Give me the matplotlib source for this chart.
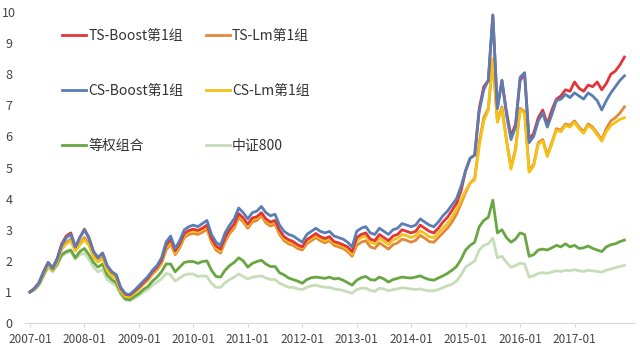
# 分组回测净值走势图
import matplotlib
matplotlib.use('Agg')
import matplotlib.pyplot as plt
import numpy as np

plt.rcParams['font.family'] = ['Noto Sans CJK SC', 'DejaVu Sans']

# 月度净值 2007-01 ~ 2017-12
ts_boost = [1.00, 1.12, 1.30, 1.65, 1.95, 1.78, 2.08, 2.55, 2.80, 2.90, 2.45, 2.75,
            3.02, 2.75, 2.30, 2.10, 2.25, 1.85, 1.65, 1.55, 1.12, 0.93, 0.90, 1.02,
            1.15, 1.30, 1.45, 1.65, 1.80, 2.02, 2.50, 2.70, 2.32, 2.55, 2.88, 2.98,
            3.02, 2.98, 3.05, 3.15, 2.72, 2.48, 2.38, 2.75, 3.00, 3.18, 3.52, 3.38,
            3.18, 3.38, 3.42, 3.55, 3.35, 3.25, 3.30, 2.98, 2.78, 2.68, 2.62, 2.52,
            2.45, 2.68, 2.78, 2.88, 2.78, 2.72, 2.78, 2.62, 2.58, 2.52, 2.45, 2.30,
            2.75, 2.85, 2.90, 2.70, 2.65, 2.85, 2.75, 2.65, 2.80, 2.85, 3.00, 2.95,
            2.90, 2.95, 3.15, 3.05, 2.95, 2.90, 3.05, 3.25, 3.40, 3.62, 3.85, 4.25,
            4.90, 5.30, 5.40, 6.90, 7.60, 7.80, 9.90, 6.90, 7.80, 6.80, 6.00, 6.40,
            7.80, 8.00, 5.90, 6.10, 6.60, 6.85, 6.40, 6.85, 7.20, 7.30, 7.50, 7.45,
            7.75, 7.55, 7.45, 7.65, 7.60, 7.75, 7.50, 7.70, 8.00, 8.10, 8.30, 8.55]

ts_lm = [1.00, 1.10, 1.28, 1.60, 1.88, 1.70, 1.98, 2.40, 2.60, 2.70, 2.35, 2.55,
         2.75, 2.55, 2.15, 1.98, 2.10, 1.72, 1.55, 1.45, 1.05, 0.88, 0.85, 0.98,
         1.10, 1.25, 1.38, 1.58, 1.72, 1.92, 2.35, 2.55, 2.20, 2.42, 2.75, 2.85,
         2.88, 2.85, 2.92, 3.02, 2.60, 2.35, 2.25, 2.62, 2.88, 3.05, 3.40, 3.25,
         3.05, 3.25, 3.30, 3.45, 3.22, 3.12, 3.18, 2.85, 2.65, 2.55, 2.50, 2.40,
         2.35, 2.55, 2.65, 2.75, 2.65, 2.58, 2.65, 2.50, 2.45, 2.40, 2.30, 2.15,
         2.50, 2.60, 2.65, 2.45, 2.40, 2.58, 2.48, 2.38, 2.52, 2.58, 2.70, 2.66,
         2.60, 2.66, 2.82, 2.73, 2.62, 2.60, 2.75, 2.90, 3.05, 3.25, 3.50, 3.85,
         4.20, 4.50, 4.65, 5.80, 6.60, 6.90, 8.45, 6.50, 6.95, 5.90, 5.00, 5.60,
         6.90, 6.80, 4.90, 5.10, 5.80, 5.90, 5.40, 5.80, 6.25, 6.20, 6.40, 6.35,
         6.50, 6.30, 6.15, 6.40, 6.30, 6.10, 5.90, 6.25, 6.50, 6.60, 6.75, 6.95]

cs_boost = [1.00, 1.12, 1.30, 1.65, 1.95, 1.75, 2.05, 2.50, 2.75, 2.85, 2.45, 2.75,
            3.00, 2.72, 2.30, 2.10, 2.25, 1.85, 1.65, 1.55, 1.15, 0.95, 0.92, 1.05,
            1.20, 1.35, 1.50, 1.70, 1.85, 2.10, 2.60, 2.80, 2.40, 2.65, 3.00, 3.10,
            3.15, 3.10, 3.20, 3.30, 2.85, 2.60, 2.50, 2.90, 3.15, 3.35, 3.70, 3.55,
            3.35, 3.55, 3.60, 3.75, 3.55, 3.45, 3.50, 3.15, 2.95, 2.85, 2.80, 2.70,
            2.60, 2.85, 2.95, 3.05, 2.95, 2.90, 2.95, 2.80, 2.75, 2.70, 2.60, 2.45,
            2.95, 3.05, 3.10, 2.90, 2.85, 3.05, 2.95, 2.85, 3.00, 3.05, 3.20, 3.15,
            3.10, 3.15, 3.35, 3.25, 3.15, 3.10, 3.25, 3.45, 3.60, 3.80, 4.00, 4.40,
            4.90, 5.30, 5.40, 6.80, 7.50, 7.80, 9.90, 6.90, 7.80, 6.70, 5.90, 6.30,
            7.90, 8.05, 5.80, 6.00, 6.50, 6.75, 6.30, 6.70, 7.15, 7.20, 7.35, 7.25,
            7.40, 7.30, 7.20, 7.40, 7.30, 7.15, 6.85, 7.15, 7.40, 7.60, 7.80, 7.95]

cs_lm = [1.00, 1.10, 1.27, 1.60, 1.87, 1.70, 1.97, 2.38, 2.55, 2.65, 2.32, 2.52,
         2.68, 2.50, 2.12, 1.96, 2.08, 1.70, 1.53, 1.43, 1.03, 0.86, 0.84, 0.97,
         1.10, 1.27, 1.40, 1.62, 1.76, 1.97, 2.42, 2.62, 2.25, 2.48, 2.82, 2.93,
         2.96, 2.93, 3.00, 3.10, 2.66, 2.42, 2.32, 2.70, 2.95, 3.12, 3.48, 3.32,
         3.12, 3.32, 3.38, 3.52, 3.30, 3.20, 3.25, 2.92, 2.72, 2.62, 2.57, 2.47,
         2.42, 2.62, 2.72, 2.82, 2.72, 2.65, 2.72, 2.57, 2.52, 2.47, 2.37, 2.22,
         2.65, 2.75, 2.80, 2.60, 2.55, 2.73, 2.63, 2.53, 2.67, 2.73, 2.85, 2.81,
         2.75, 2.81, 2.97, 2.88, 2.77, 2.75, 2.90, 3.05, 3.20, 3.40, 3.65, 3.95,
         4.25, 4.50, 4.60, 5.70, 6.50, 6.85, 8.50, 6.45, 6.90, 5.85, 4.95, 5.55,
         6.85, 6.75, 4.85, 5.05, 5.75, 5.85, 5.35, 5.75, 6.20, 6.15, 6.35, 6.30,
         6.45, 6.25, 6.10, 6.35, 6.25, 6.05, 5.85, 6.15, 6.35, 6.45, 6.55, 6.60]

equal_wt = [1.00, 1.08, 1.25, 1.55, 1.85, 1.70, 1.90, 2.20, 2.30, 2.35, 2.10, 2.30,
            2.40, 2.20, 1.95, 1.80, 1.90, 1.55, 1.40, 1.30, 0.98, 0.78, 0.75, 0.85,
            0.95, 1.08, 1.18, 1.35, 1.48, 1.65, 1.90, 1.90, 1.65, 1.80, 1.95, 1.98,
            1.98, 1.92, 1.98, 2.00, 1.70, 1.50, 1.48, 1.70, 1.85, 1.95, 2.10, 2.00,
            1.80, 1.92, 1.98, 2.02, 1.90, 1.82, 1.82, 1.62, 1.55, 1.45, 1.40, 1.35,
            1.28, 1.40, 1.46, 1.48, 1.46, 1.44, 1.48, 1.42, 1.44, 1.38, 1.30, 1.22,
            1.38, 1.46, 1.50, 1.40, 1.38, 1.48, 1.42, 1.32, 1.40, 1.44, 1.48, 1.46,
            1.45, 1.48, 1.52, 1.45, 1.40, 1.38, 1.45, 1.52, 1.60, 1.70, 1.82, 2.05,
            2.35, 2.50, 2.60, 3.10, 3.30, 3.40, 3.95, 2.90, 3.00, 2.75, 2.60, 2.70,
            2.90, 2.85, 2.15, 2.20, 2.35, 2.38, 2.35, 2.42, 2.50, 2.45, 2.55, 2.45,
            2.50, 2.40, 2.42, 2.48, 2.40, 2.35, 2.30, 2.45, 2.52, 2.55, 2.62, 2.67]

csi800 = [1.00, 1.07, 1.22, 1.50, 1.78, 1.65, 1.85, 2.15, 2.25, 2.30, 2.05, 2.20,
          2.25, 2.05, 1.80, 1.65, 1.72, 1.40, 1.30, 1.20, 0.92, 0.74, 0.72, 0.80,
          0.88, 1.00, 1.08, 1.22, 1.32, 1.42, 1.60, 1.55, 1.35, 1.45, 1.55, 1.58,
          1.58, 1.50, 1.52, 1.50, 1.28, 1.15, 1.15, 1.30, 1.40, 1.48, 1.58, 1.50,
          1.42, 1.48, 1.50, 1.52, 1.45, 1.40, 1.40, 1.28, 1.22, 1.15, 1.15, 1.10,
          1.08, 1.15, 1.20, 1.22, 1.18, 1.15, 1.15, 1.10, 1.08, 1.05, 1.00, 0.96,
          1.08, 1.12, 1.12, 1.05, 1.02, 1.12, 1.10, 1.04, 1.08, 1.10, 1.14, 1.12,
          1.10, 1.08, 1.10, 1.06, 1.04, 1.04, 1.08, 1.14, 1.20, 1.25, 1.35, 1.55,
          1.80, 1.90, 2.00, 2.35, 2.50, 2.55, 2.73, 2.10, 2.15, 1.95, 1.80, 1.85,
          1.93, 1.90, 1.48, 1.52, 1.60, 1.62, 1.60, 1.64, 1.68, 1.66, 1.70, 1.68,
          1.72, 1.68, 1.66, 1.70, 1.68, 1.66, 1.64, 1.70, 1.74, 1.78, 1.82, 1.86]

tick_labels = ['2007-01', '2008-01', '2009-01', '2010-01', '2011-01', '2012-01',
               '2013-01', '2014-01', '2015-01', '2016-01', '2017-01']

months = np.arange(len(ts_boost))

fig = plt.figure(figsize=(6.4, 3.52), dpi=100)
ax = fig.add_axes([0.039, 0.082, 0.953, 0.884])

lw = 2.0
l_800, = ax.plot(months, csi800, color='#c6ddb8', lw=lw, label='中证800')
l_eq, = ax.plot(months, equal_wt, color='#68a642', lw=lw, label='等权组合')
l_tslm, = ax.plot(months, ts_lm, color='#e3873a', lw=lw, label='TS-Lm第1组')
l_cslm, = ax.plot(months, cs_lm, color='#f4c216', lw=lw, label='CS-Lm第1组')
l_tsb, = ax.plot(months, ts_boost, color='#e2353a', lw=lw, label='TS-Boost第1组')
l_csb, = ax.plot(months, cs_boost, color='#5a7db3', lw=lw, label='CS-Boost第1组')

ax.set_xlim(-1.1, 133.3)
ax.set_ylim(0, 10)
ax.set_yticks(range(0, 11))
ax.set_xticks(np.arange(0, 121, 12))
ax.set_xticklabels(tick_labels)
ax.tick_params(axis='y', length=0, labelsize=9, colors='#444444', pad=2)
ax.tick_params(axis='x', length=3, color='#d9d9d9', labelsize=8.5, colors='#444444', pad=4)
for lab in ax.get_yticklabels():
    lab.set_horizontalalignment('center')
    lab.set_x(-0.022)

for s in ['top', 'right', 'left']:
    ax.spines[s].set_visible(False)
ax.spines['bottom'].set_color('#d9d9d9')

handles = [l_tsb, l_csb, l_eq, l_tslm, l_cslm, l_800]
leg = ax.legend(handles=handles, ncol=2, loc='upper left',
                bbox_to_anchor=(62 / 640, 1 - 29 / 352), bbox_transform=fig.transFigure,
                frameon=False, fontsize=10, labelspacing=2.95, handlelength=1.75,
                handletextpad=0.15, columnspacing=1.6, borderpad=0, borderaxespad=0)
for t in leg.get_texts():
    t.set_color('#333333')

fig.savefig('out.png', dpi=100)
